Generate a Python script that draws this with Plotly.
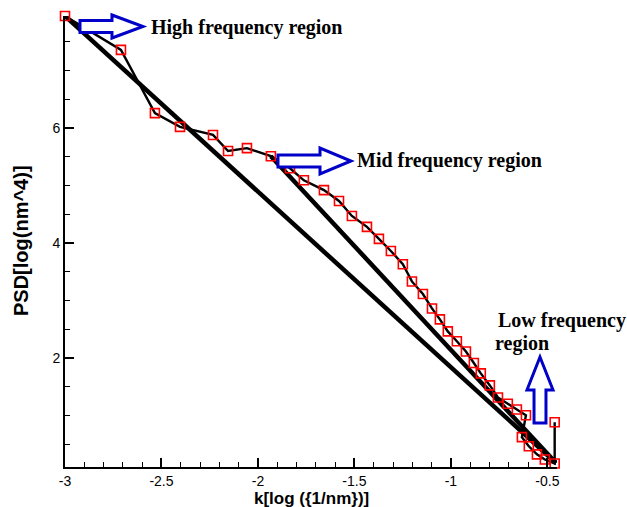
import plotly.graph_objects as go

# Measured PSD curve (log-log)
k_meas = [-3.00, -2.71, -2.534, -2.404, -2.233, -2.155, -2.057, -1.933, -1.834,
          -1.762, -1.658, -1.580, -1.513, -1.435, -1.373, -1.311, -1.249, -1.202,
          -1.145, -1.098, -1.057, -1.016, -0.969, -0.922, -0.881, -0.845, -0.798,
          -0.756, -0.705, -0.658, -0.611, -0.632, -0.596, -0.554, -0.513, -0.462,
          -0.462]
psd_meas = [7.95, 7.36, 6.26, 6.02, 5.88, 5.60, 5.65, 5.51, 5.30,
            5.09, 4.92, 4.73, 4.47, 4.28, 4.07, 3.86, 3.63, 3.33,
            3.11, 2.86, 2.67, 2.46, 2.29, 2.11, 1.91, 1.73, 1.52,
            1.31, 1.20, 1.10, 1.00, 0.62, 0.46, 0.32, 0.23, 0.16,
            0.88]

# Straight-line fits
k_fit_full = [-3.00, -0.455]
psd_fit_full = [7.95, 0.17]
k_fit_mid = [-1.933, -0.455]
psd_fit_mid = [5.51, 0.17]

x_ticks = [-3, -2.5, -2, -1.5, -1, -0.5]
x_tick_text = ["-3", "-2.5", "-2", "-1.5", "-1", "-0.5"]
y_ticks = [2, 4, 6]
y_tick_text = ["2", "4", "6"]

W, H = 627, 507
L, R, T, B = 65, 557, 16, 467


def paper(px, py):
    return (px - L) / (R - L), (B - py) / (B - T)


def h_arrow(x0, xh, xt, yc, hb, hh):
    pts = [(x0, yc - hb), (xh, yc - hb), (xh, yc - hh), (xt, yc),
           (xh, yc + hh), (xh, yc + hb), (x0, yc + hb)]
    pp = [paper(*p) for p in pts]
    return "M " + " L ".join(f"{a:.4f},{b:.4f}" for a, b in pp) + " Z"


def v_arrow(xc, y0, yh, yt, hb, hh):
    pts = [(xc - hb, y0), (xc - hb, yh), (xc - hh, yh), (xc, yt),
           (xc + hh, yh), (xc + hb, yh), (xc + hb, y0)]
    pp = [paper(*p) for p in pts]
    return "M " + " L ".join(f"{a:.4f},{b:.4f}" for a, b in pp) + " Z"


fig = go.Figure()
fig.add_trace(go.Scatter(x=k_fit_full, y=psd_fit_full, mode="lines",
                         line=dict(color="black", width=4.5), showlegend=False))
fig.add_trace(go.Scatter(x=k_fit_mid, y=psd_fit_mid, mode="lines",
                         line=dict(color="black", width=4.5), showlegend=False))
fig.add_trace(go.Scatter(x=k_meas, y=psd_meas, mode="lines+markers",
                         line=dict(color="black", width=2.4),
                         marker=dict(symbol="square-open", size=9, color="red",
                                     line=dict(width=1.6, color="red")),
                         cliponaxis=False, showlegend=False))

arrow_style = dict(type="path", xref="paper", yref="paper",
                   line=dict(color="#0000c8", width=3), fillcolor="white",
                   layer="above")
fig.add_shape(path=h_arrow(80, 112, 143, 26.5, 6, 11.5), **arrow_style)
fig.add_shape(path=h_arrow(278, 320, 351, 161, 6, 13), **arrow_style)
fig.add_shape(path=v_arrow(540, 423, 390, 357, 6, 13), **arrow_style)

label_font = dict(family="Liberation Serif, Times New Roman, serif", size=20,
                  color="black")
for txt, px, py in [("<b>High frequency region</b>", 149, 27),
                    ("<b>Mid frequency region</b>", 355, 160),
                    ("<b>Low frequency</b>", 496, 320),
                    ("<b>region</b>", 493, 343)]:
    ax, ay = paper(px, py)
    fig.add_annotation(x=ax, y=ay, xref="paper", yref="paper", text=txt,
                       showarrow=False, xanchor="left", yanchor="middle",
                       font=label_font)

tx, ty = paper(311, 498)
fig.add_annotation(x=tx, y=ty, xref="paper", yref="paper",
                   text="<b>k[log ({1/nm})]</b>", showarrow=False,
                   xanchor="center", yanchor="middle",
                   font=dict(family="Liberation Sans, Arial, sans-serif",
                             size=17, color="black"))
yx, yy = paper(21, 241)
fig.add_annotation(x=yx, y=yy, xref="paper", yref="paper",
                   text="<b>PSD[log(nm^4)]</b>", showarrow=False, textangle=-90,
                   xanchor="center", yanchor="middle",
                   font=dict(family="Liberation Sans, Arial, sans-serif",
                             size=20, color="black"))

axis_common = dict(showgrid=False, zeroline=False, showline=True,
                   linecolor="black", linewidth=2, ticks="inside",
                   ticklen=9, tickwidth=1.5, tickcolor="black",
                   tickfont=dict(family="Liberation Sans, Arial, sans-serif",
                                 size=14, color="black"), mirror=False)
fig.update_xaxes(range=[-3, -0.45], tickvals=x_ticks, ticktext=x_tick_text,
                 minor=dict(dtick=0.1, ticks="inside", ticklen=5,
                            tickwidth=1.2, tickcolor="black"),
                 **axis_common)
fig.update_yaxes(range=[0.1, 7.95], tickvals=y_ticks, ticktext=y_tick_text,
                 minor=dict(dtick=0.5, ticks="inside", ticklen=5,
                            tickwidth=1.2, tickcolor="black"),
                 **axis_common)
fig.update_layout(width=W, height=H, plot_bgcolor="white", paper_bgcolor="white",
                  margin=dict(l=L, r=W - R, t=T, b=H - B, pad=0),
                  showlegend=False)
fig.write_html("out.html")
